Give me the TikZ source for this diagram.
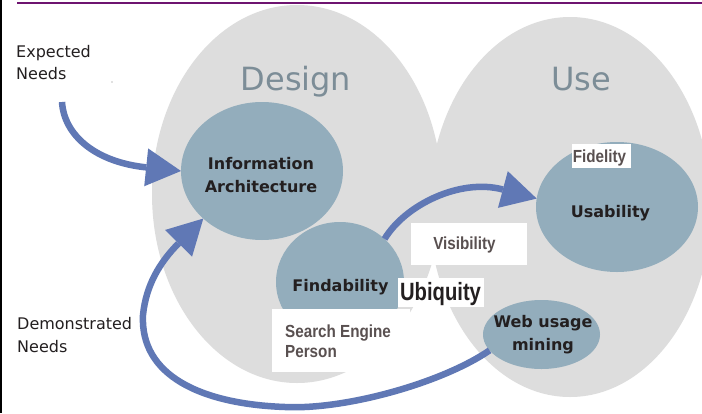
\documentclass[tikz,border=0pt]{standalone}
\usepackage{fontspec}
\setmainfont{DejaVu Sans}
\newfontfamily\narrowfont{Liberation Sans}[FakeStretch=0.87]
\newfontfamily\ubiqfont{Liberation Sans}[FakeStretch=0.81]
\usetikzlibrary{shapes.geometric,arrows.meta}
\definecolor{zonegray}{HTML}{DDDDDD}
\definecolor{bubblefill}{HTML}{93ADBC}
\definecolor{flowblue}{HTML}{6078B5}
\definecolor{zonetext}{HTML}{7C8D97}
\definecolor{ink}{HTML}{231F20}
\definecolor{boxink}{HTML}{595050}
\definecolor{rulepurple}{HTML}{6E1470}
\begin{document}
\begin{tikzpicture}[x=1pt,y=-1pt,
  zone/.style={ellipse, fill=zonegray, inner sep=0pt, outer sep=0pt},
  bubble/.style={ellipse, fill=bubblefill, inner sep=0pt, outer sep=0pt},
  bubbletext/.style={text=ink, font=\fontsize{16}{20}\selectfont\bfseries, inner sep=0pt, anchor=base},
  zonelabel/.style={text=zonetext, font=\fontsize{32}{36}\selectfont, inner sep=0pt, anchor=base},
  needs/.style={text=ink, font=\fontsize{16}{20}\selectfont, inner sep=0pt, anchor=base west},
  tagbox/.style={fill=white, inner sep=0pt, outer sep=0pt},
  tagtext/.style={text=boxink, font=\narrowfont\bfseries\fontsize{17.5}{20}\selectfont, inner sep=0pt},
  ubitext/.style={text=ink, font=\ubiqfont\bfseries\fontsize{25}{28}\selectfont, inner sep=0pt},
  flow/.style={draw=flowblue, line width=6.5pt, -{Triangle[length=35pt,width=38pt,line width=0pt]}}
]
\useasboundingbox (0,0) rectangle (702,413);
\clip (0,0) rectangle (702,413);
\fill[white] (0,0) rectangle (702,413);

% big zones
\node[zone, minimum width=290pt, minimum height=378pt] (design) at (297,194) {};
\node[zone, minimum width=282pt, minimum height=380pt] (use) at (570,207) {};

% frame rules
\draw[rulepurple, line width=2.5pt] (17,3) -- (702,3);
\draw[black, line width=1.5pt] (1,0) -- (1,413);

\node[zonelabel] (designlbl) at (296,90) {Design};
\node[zonelabel] (uselbl) at (581,90) {Use};

% bubbles
\node[bubble, minimum width=162pt, minimum height=138pt] (ia) at (262,171) {};
\node[bubble, minimum width=128pt, minimum height=120pt] (find) at (340,282) {};
\node[bubble, minimum width=162pt, minimum height=130pt] (usab) at (617,207) {};
\node[bubble, minimum width=117pt, minimum height=69pt] (wum) at (541.5,334.5) {};

\node[bubbletext] (ia1) at (261,169) {Information};
\node[bubbletext] (ia2) at (261,192) {Architecture};
\node[bubbletext] (findtext) at (340.5,291) {Findability};
\node[bubbletext] (usabtext) at (610.5,217) {Usability};
\node[bubbletext] (wum1) at (543,327) {Web usage};
\node[bubbletext] (wum2) at (543,350) {mining};

% needs labels
\node[needs] (exp1) at (16,57) {Expected};
\node[needs] (exp2) at (16,79) {Needs};
\node[needs] (dem1) at (17,329) {Demonstrated};
\node[needs] (dem2) at (17,352) {Needs};
\fill[gray] (112,82) circle (0.6pt);

% arrows
\coordinate (expstart) at (62,102);
\draw[flow] (expstart) .. controls (64,135) and (95,162) .. (ia.west);
\draw[flow] (find.44) .. controls (405,205) and (460,178) .. (usab.174);
\draw[flow] (wum.197) .. controls (442,383) and (345,410) .. (285,407)
  .. controls (200,404) and (140,375) .. (143,315)
  .. controls (146,285) and (160,262) .. (ia.219);

% tag boxes
\node[tagbox, minimum width=116pt, minimum height=42pt] (visbox) at (469,244) {};
\node[tagtext, anchor=base] (vistext) at (464.5,249) {Visibility};
\node[tagbox, minimum width=59pt, minimum height=24pt] (fidbox) at (601.5,156) {};
\node[tagtext, anchor=base] (fidtext) at (599.5,162) {Fidelity};
\node[tagbox, minimum width=86pt, minimum height=29pt] (ubibox) at (441,292.5) {};
\node[ubitext, anchor=base] (ubitext) at (440.5,300) {Ubiquity};
\node[tagbox, minimum width=138pt, minimum height=63pt] (sebox) at (341,340.5) {};
\node[tagtext, anchor=base west] (se1) at (285,337) {Search Engine};
\node[tagtext, anchor=base west] (se2) at (285,357) {Person};
\end{tikzpicture}
\end{document}
